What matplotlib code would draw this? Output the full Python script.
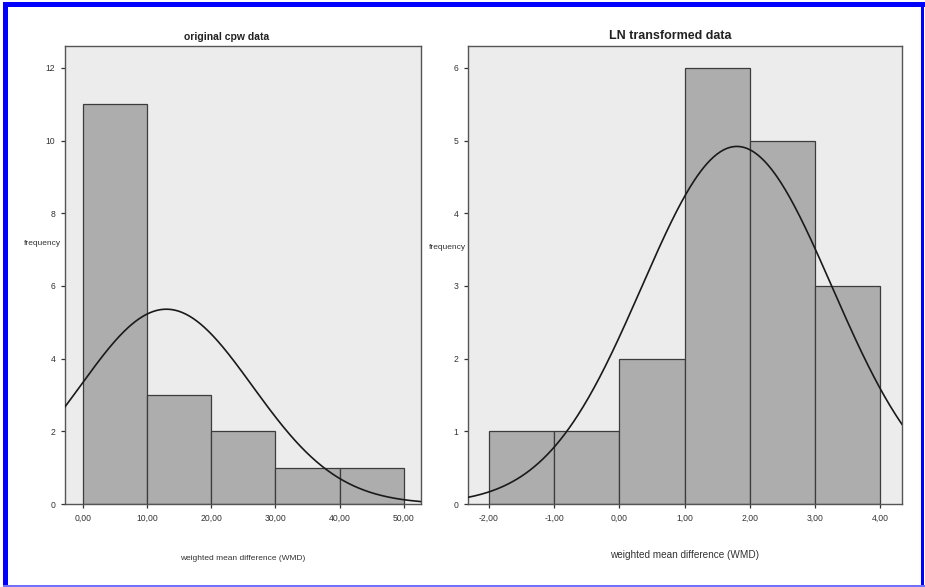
import numpy as np
import matplotlib
matplotlib.use('Agg')
import matplotlib.pyplot as plt
from matplotlib.patches import Rectangle

plt.rcParams['font.family'] = ['Liberation Sans Narrow', 'Liberation Sans', 'DejaVu Sans']

# histogram of the original data
orig_edges = [0, 10, 20, 30, 40, 50]
orig_counts = [11, 3, 2, 1, 1]
orig_mean, orig_sd = 13.0, 13.4
orig_xticks = [0, 10, 20, 30, 40, 50]
orig_xticklabels = ['0,00', '10,00', '20,00', '30,00', '40,00', '50,00']
orig_yticks = [0, 2, 4, 6, 8, 10, 12]

# histogram of the LN transformed data
ln_edges = [-2, -1, 0, 1, 2, 3, 4]
ln_counts = [1, 1, 2, 6, 5, 3]
ln_mean, ln_sd = 1.8, 1.46
ln_xticks = [-2, -1, 0, 1, 2, 3, 4]
ln_xticklabels = ['-2,00', '-1,00', '0,00', '1,00', '2,00', '3,00', '4,00']
ln_yticks = [0, 1, 2, 3, 4, 5, 6]

BG = '#ececec'
BAR = '#adadad'
EDGE = '#3c3c3c'
W, H = 925, 587


def normal_fit(x, n, width, mu, sd):
    return n * width * np.exp(-(x - mu) ** 2 / (2 * sd ** 2)) / (sd * np.sqrt(2 * np.pi))


def hist_panel(ax, edges, counts, mu, sd, xlim, ylim, xticks, xticklabels, yticks,
               title, title_x, title_size, label_size, label_pad, ylab_x, ylab_y):
    ax.set_facecolor(BG)
    edges = np.asarray(edges, float)
    widths = np.diff(edges)
    ax.bar(edges[:-1], counts, width=widths, align='edge', color=BAR,
           edgecolor=EDGE, linewidth=0.9, zorder=2)
    x = np.linspace(xlim[0], xlim[1], 400)
    y = normal_fit(x, sum(counts), widths[0], mu, sd)
    ax.plot(x, y, color='#1a1a1a', linewidth=1.2, zorder=3)
    ax.set_xlim(xlim)
    ax.set_ylim(ylim)
    ax.set_xticks(xticks)
    ax.set_xticklabels(xticklabels)
    ax.set_yticks(yticks)
    ax.tick_params(axis='both', labelsize=6.2, length=3, width=0.9,
                   color='#333333', labelcolor='#333333', pad=4)
    for s in ax.spines.values():
        s.set_color('#555555')
        s.set_linewidth(1.0)
    ax.text(title_x, 1.008, title, transform=ax.transAxes, ha='center', va='bottom',
            fontsize=title_size, fontweight='bold', color='#222222')
    ax.set_xlabel('weighted mean difference (WMD)', fontsize=label_size,
                  color='#333333', labelpad=label_pad)
    ax.text(ylab_x, ylab_y, 'frequency', transform=ax.transAxes, ha='right',
            va='center', fontsize=6, color='#333333')


fig = plt.figure(figsize=(W / 100, H / 100), dpi=100)
fig.patch.set_facecolor('white')

ax1 = fig.add_axes([65 / W, 1 - 504 / H, 356 / W, 458 / H])
ax2 = fig.add_axes([468 / W, 1 - 504 / H, 434 / W, 458 / H])

hist_panel(ax1, orig_edges, orig_counts, orig_mean, orig_sd, (-2.8, 52.7), (0, 12.6),
           orig_xticks, orig_xticklabels, orig_yticks,
           'original cpw data', 0.455, 7.5, 6.0, 23, -0.01, 0.568)
hist_panel(ax2, ln_edges, ln_counts, ln_mean, ln_sd, (-2.32, 4.33), (0, 6.3),
           ln_xticks, ln_xticklabels, ln_yticks,
           'LN transformed data', 0.465, 9, 7.2, 20, -0.005, 0.561)


# blue frame round the picture, given in pixels from the top left corner
def frame_bar(x0, y0, x1, y1, color):
    fig.add_artist(Rectangle((x0 / W, 1 - y1 / H), (x1 - x0) / W, (y1 - y0) / H,
                             transform=fig.transFigure, facecolor=color,
                             edgecolor='none', zorder=10))


frame_bar(3, 2, W, 7, '#0000ff')
frame_bar(3, 2, 8, H, '#0000ff')
frame_bar(921, 2, 924, H, '#0000ff')
frame_bar(3, 585, W, H, '#7070ff')

fig.savefig('out.png', dpi=100, facecolor='white')
